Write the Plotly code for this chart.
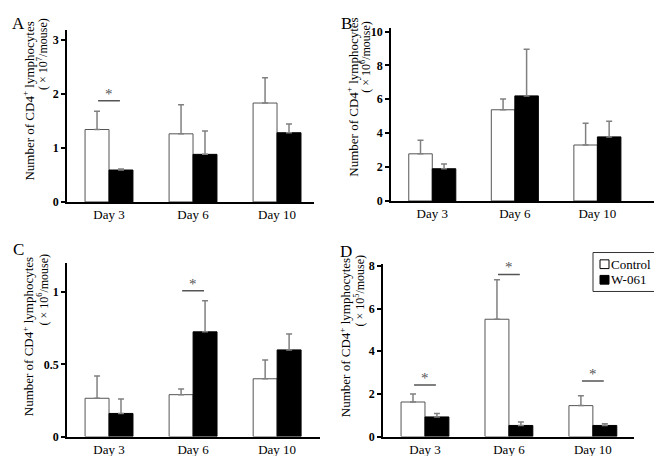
import plotly.graph_objects as go

days = ["Day 3", "Day 6", "Day 10"]
day_pos = [0, 1, 2]

# Panel A (x10^7/mouse)
a_ctrl = [1.34, 1.26, 1.83]
a_ctrl_err = [0.34, 0.54, 0.47]
a_w = [0.59, 0.88, 1.28]
a_w_err = [0.02, 0.43, 0.16]
# Panel B (x10^6/mouse)
b_ctrl = [2.78, 5.38, 3.30]
b_ctrl_err = [0.80, 0.64, 1.28]
b_w = [1.90, 6.20, 3.78]
b_w_err = [0.28, 2.75, 0.92]
# Panel C (x10^6/mouse)
c_ctrl = [0.265, 0.29, 0.40]
c_ctrl_err = [0.155, 0.04, 0.13]
c_w = [0.16, 0.725, 0.60]
c_w_err = [0.10, 0.215, 0.11]
# Panel D (x10^5/mouse)
d_ctrl = [1.62, 5.50, 1.45]
d_ctrl_err = [0.38, 1.85, 0.46]
d_w = [0.92, 0.52, 0.52]
d_w_err = [0.16, 0.16, 0.08]

# significance markers: (day index, height)
sig_a = [(0, 1.87)]
sig_c = [(1, 1.01)]
sig_d = [(0, 2.42), (1, 7.6), (2, 2.6)]

series_names = ["Control", "W-061"]
units = ["( × 10<sup>7</sup>/mouse)", "( × 10<sup>6</sup>/mouse)",
         "( × 10<sup>6</sup>/mouse)", "( × 10<sup>5</sup>/mouse)"]
letters = ["A", "B", "C", "D"]
y_ticks = [[0, 1, 2, 3], [0, 2, 4, 6, 8, 10], [0, 0.5, 1], [0, 2, 4, 6, 8]]
y_ticktext = [["0", "1", "2", "3"], ["0", "2", "4", "6", "8", "10"],
              ["0", "0.5", "1"], ["0", "2", "4", "6", "8"]]

W, H = 662, 456
FONT = "Liberation Serif"

# layout geometry (pixels)
panels = [
    dict(x0=59, x1=306, ytop=17, ybot=194, yr=3.19, xr=2.44, t1x=20, t1y=91, t2x=35, t2y=42, lx=10, ly=11),
    dict(x0=383, x1=648, ytop=15, ybot=193, yr=10.23, xr=2.71, t1x=344, t1y=87, t2x=358, t2y=45, lx=338, ly=11),
    dict(x0=59, x1=312, ytop=257, ybot=435, yr=1.2, xr=2.51, t1x=20, t1y=333, t2x=35, t2y=284, lx=10, ly=243),
    dict(x0=375, x1=626, ytop=258, ybot=435, yr=8.08, xr=2.49, t1x=337, t1y=334, t2x=351, t2y=285, lx=338, ly=245),
]

data = [(a_ctrl, a_ctrl_err, a_w, a_w_err, sig_a),
        (b_ctrl, b_ctrl_err, b_w, b_w_err, []),
        (c_ctrl, c_ctrl_err, c_w, c_w_err, sig_c),
        (d_ctrl, d_ctrl_err, d_w, d_w_err, sig_d)]

fig = go.Figure()
shapes = []
annotations = []
layout = {}

for i, (p, (cv, ce, wv, we, sigs)) in enumerate(zip(panels, data)):
    n = "" if i == 0 else str(i + 1)
    xa, ya = "x" + n, "y" + n
    fig.add_trace(go.Bar(
        x=day_pos, y=cv, name=series_names[0], xaxis=xa, yaxis=ya,
        marker=dict(color="white", line=dict(color="#555555", width=1)),
        error_y=dict(type="data", symmetric=False, array=ce, arrayminus=[0] * 3,
                     color="#808080", thickness=1.5, width=3),
        showlegend=False, offsetgroup="c"))
    fig.add_trace(go.Bar(
        x=day_pos, y=wv, name=series_names[1], xaxis=xa, yaxis=ya,
        marker=dict(color="black", line=dict(color="black", width=1)),
        error_y=dict(type="data", symmetric=False, array=we, arrayminus=[0] * 3,
                     color="#808080", thickness=1.5, width=3),
        showlegend=False, offsetgroup="w"))
    layout["xaxis" + n] = dict(
        domain=[p["x0"] / W, p["x1"] / W], anchor=ya, range=[-0.5, p["xr"]],
        tickvals=day_pos, ticktext=days, showline=True, linecolor="black",
        linewidth=1.5, ticks="", showgrid=False, zeroline=False,
        tickfont=dict(family=FONT, size=13, color="black", weight="normal"), fixedrange=True)
    layout["yaxis" + n] = dict(
        domain=[1 - p["ybot"] / H, 1 - p["ytop"] / H], anchor=xa, range=[0, p["yr"]],
        tickvals=y_ticks[i], ticktext=y_ticktext[i], showline=True, linecolor="black",
        linewidth=1.5, ticks="outside", ticklen=4, tickwidth=1.5, tickcolor="black",
        showgrid=False, zeroline=False,
        tickfont=dict(family=FONT, size=12, color="black", weight="bold"))
    for (d, h) in sigs:
        shapes.append(dict(type="line", xref=xa, yref=ya, x0=d - 0.13, x1=d + 0.13,
                           y0=h, y1=h, line=dict(color="#555555", width=1.5)))
        annotations.append(dict(x=d, y=h, xref=xa, yref=ya, text="*", showarrow=False,
                                yanchor="bottom", yshift=-3,
                                font=dict(family=FONT, size=15, color="#555555")))
    annotations.append(dict(x=p["t1x"] / W, y=1 - p["t1y"] / H, xref="paper", yref="paper",
                            text="Number of CD4<sup>+</sup> lymphocytes", textangle=-90,
                            showarrow=False, xanchor="center", yanchor="middle",
                            font=dict(family=FONT, size=13, color="black")))
    annotations.append(dict(x=p["t2x"] / W, y=1 - p["t2y"] / H, xref="paper", yref="paper",
                            text=units[i], textangle=-90,
                            showarrow=False, xanchor="center", yanchor="middle",
                            font=dict(family=FONT, size=12, color="black")))
    annotations.append(dict(x=p["lx"] / W, y=1 - p["ly"] / H, xref="paper", yref="paper",
                            text=letters[i], showarrow=False, xanchor="center",
                            yanchor="middle", font=dict(family=FONT, size=17, color="black")))

# legend box (drawn manually)
shapes.append(dict(type="rect", xref="paper", yref="paper",
                   x0=585 / W, x1=657 / W, y0=1 - 286 / H, y1=1 - 246 / H,
                   line=dict(color="#333333", width=1), fillcolor="white"))
legend_rows = [(258, "white"), (274, "black")]
for (yc, col), name in zip(legend_rows, series_names):
    shapes.append(dict(type="rect", xref="paper", yref="paper",
                       x0=592 / W, x1=601 / W, y0=1 - (yc + 4.5) / H, y1=1 - (yc - 4.5) / H,
                       line=dict(color="black", width=1), fillcolor=col))
    annotations.append(dict(x=603 / W, y=1 - yc / H, xref="paper", yref="paper",
                            text=name, showarrow=False, xanchor="left", yanchor="middle",
                            xshift=-2, font=dict(family=FONT, size=13, color="black")))

fig.update_layout(
    width=W, height=H, margin=dict(l=0, r=0, t=0, b=0),
    paper_bgcolor="white", plot_bgcolor="white",
    barmode="group", bargap=0.43, bargroupgap=0, showlegend=False,
    shapes=shapes, annotations=annotations,
    **layout)

fig.write_html("out.html")
